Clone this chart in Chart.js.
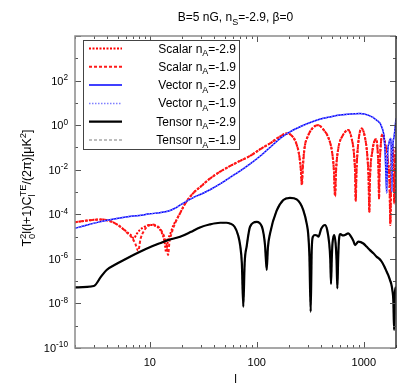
<!DOCTYPE html>
<html><head><meta charset="utf-8">
<script src="https://cdn.jsdelivr.net/npm/chart.js@4"></script>
<style>html,body{margin:0;padding:0;background:#fff}canvas{display:block}</style>
</head><body>
<canvas id="c" width="415" height="388"></canvas>
<script>
// ---- data: [multipole l, log10(T0^2 l(l+1) C_l^TE / 2pi)] ----
const scalarN29 = [[2,-4.36],[2.5,-4.29],[3,-4.25],[3.4,-4.23],[4,-4.27],[4.5,-4.35],[5,-4.47],[5.6,-4.65],[6.2,-4.82],[6.7,-4.95],[7.1,-5.08],[7.5,-4.9],[8,-4.72],[9,-4.55],[10,-4.48],[11,-4.5],[12,-4.6],[13,-4.85],[13.7,-5.2],[14.2,-5.68],[14.8,-5.15],[15.6,-4.85],[16.6,-4.5],[18,-4.2],[19.2,-3.95],[20.6,-3.66],[22.1,-3.42],[25.5,-3.05],[30,-2.75],[36.5,-2.4],[45,-2.1],[56,-1.84],[70,-1.6],[86.5,-1.38],[110,-1.05],[133,-0.82],[160,-0.55],[191,-0.37],[215,-0.5],[235,-0.85],[250,-1.4],[258,-2.0],[263,-2.62],[268,-1.9],[280,-1.0],[300,-0.5],[330,-0.15],[373,0.0],[420,-0.2],[470,-0.6],[505,-1.2],[525,-2.0],[538,-3.14],[550,-2.0],[580,-1.0],[630,-0.5],[716,-0.22],[770,-0.6],[810,-1.3],[830,-2.2],[840,-3.36],[852,-2.2],[880,-1.0],[955,-0.15],[1020,-0.5],[1080,-1.4],[1110,-2.5],[1125,-3.89],[1140,-2.5],[1200,-1.2],[1300,-0.63],[1350,-1.2],[1375,-2.2],[1387,-3.29],[1400,-2.2],[1440,-0.9],[1500,-0.4],[1580,-0.8],[1680,-1.6],[1740,-2.6],[1770,-4.48],[1810,-1.8],[1850,-0.9],[1890,-1.6],[1928,-3.51],[1960,-1.6],[2000,-0.97]];
const scalarN19 = [[2,-4.36],[2.5,-4.29],[3,-4.25],[3.4,-4.23],[4,-4.27],[4.5,-4.35],[5,-4.47],[5.6,-4.65],[6.2,-4.85],[6.8,-5.05],[7.3,-5.3],[7.8,-5.64],[8.2,-5.1],[8.8,-4.75],[9.5,-4.55],[10.5,-4.46],[11.5,-4.5],[12.5,-4.65],[13.5,-4.95],[14.3,-5.3],[14.8,-5.83],[15.3,-5.2],[16,-4.85],[16.6,-4.6],[18,-4.2],[19.2,-3.95],[20.6,-3.66],[22.1,-3.42],[25.5,-3.05],[30,-2.75],[36.5,-2.4],[45,-2.1],[56,-1.84],[70,-1.6],[86.5,-1.38],[110,-1.05],[133,-0.82],[160,-0.55],[191,-0.37],[215,-0.5],[235,-0.85],[250,-1.4],[258,-2.0],[264,-2.7],[270,-1.9],[280,-1.0],[300,-0.5],[330,-0.15],[373,0.0],[420,-0.2],[470,-0.6],[505,-1.2],[525,-2.0],[540,-3.2],[552,-2.0],[580,-1.0],[630,-0.5],[716,-0.22],[770,-0.6],[810,-1.3],[830,-2.2],[842,-3.4],[854,-2.2],[880,-1.0],[955,-0.15],[1020,-0.5],[1080,-1.4],[1110,-2.5],[1127,-3.9],[1142,-2.5],[1200,-1.2],[1300,-0.63],[1350,-1.2],[1375,-2.2],[1389,-3.3],[1402,-2.2],[1440,-0.9],[1500,-0.4],[1580,-0.8],[1680,-1.6],[1740,-2.6],[1772,-4.4],[1810,-1.8],[1850,-0.9],[1890,-1.6],[1930,-3.5],[1960,-1.6],[2000,-0.97]];
const vectorN29 = [[2,-4.63],[2.5,-4.5],[3.4,-4.34],[4.5,-4.22],[6,-4.12],[8,-4.05],[10,-3.98],[12.4,-3.93],[15,-3.85],[17,-3.74],[19,-3.6],[22,-3.42],[25.5,-3.25],[30,-3.1],[36.5,-2.9],[45,-2.65],[56,-2.35],[70,-2.05],[86,-1.75],[110,-1.35],[140,-0.9],[170,-0.55],[204,-0.3],[260,-0.05],[330,0.15],[410,0.3],[483,0.37],[600,0.45],[750,0.5],[923,0.52],[1100,0.45],[1321,0.22],[1472,-0.08],[1558,-0.67],[1594,-1.57],[1637,-3.05],[1670,-1.3],[1717,-0.82],[1788,-0.6],[1810,-1.2],[1829,-2.99],[1860,-1.1],[1920,-0.52],[2000,0.3]];
const vectorN19 = [[2,-4.63],[2.5,-4.5],[3.4,-4.34],[4.5,-4.22],[6,-4.12],[8,-4.05],[10,-3.98],[12.4,-3.93],[15,-3.85],[17,-3.74],[19,-3.6],[22,-3.42],[25.5,-3.25],[30,-3.1],[36.5,-2.9],[45,-2.65],[56,-2.35],[70,-2.05],[86,-1.75],[110,-1.35],[140,-0.9],[170,-0.55],[204,-0.3],[260,-0.05],[330,0.15],[410,0.3],[483,0.37],[600,0.45],[750,0.5],[923,0.52],[1100,0.45],[1321,0.22],[1472,-0.08],[1558,-0.67],[1594,-1.57],[1637,-3.05],[1670,-1.3],[1717,-0.82],[1788,-0.6],[1810,-1.2],[1829,-2.99],[1860,-1.1],[1920,-0.52],[2000,0.3]];
const tensorN29 = [[2,-7.28],[3,-7.22],[3.5,-6.8],[3.95,-6.5],[5,-6.2],[6.08,-5.98],[8.1,-5.68],[10,-5.48],[12.4,-5.3],[15,-5.15],[19.2,-5.01],[24,-4.8],[29.4,-4.59],[36,-4.46],[45.4,-4.38],[52,-4.38],[56,-4.41],[62,-4.56],[67,-4.95],[70,-5.41],[72.5,-6.2],[74.8,-8.15],[77,-6.2],[80.5,-5.43],[86.5,-4.56],[99.8,-4.34],[111.7,-4.56],[116,-4.9],[119.5,-5.41],[123.7,-6.5],[127,-5.5],[133,-4.86],[153,-3.85],[177,-3.36],[204,-3.26],[236,-3.33],[272,-3.81],[295,-4.5],[302,-4.86],[310,-5.8],[319,-8.37],[326,-5.6],[335,-5.0],[350,-4.93],[365,-4.95],[377,-5.0],[400,-4.65],[434,-4.48],[455,-4.7],[475,-5.3],[486,-6.0],[494,-7.13],[502,-6.0],[510,-5.3],[529,-4.93],[545,-5.3],[556,-6.0],[566,-7.32],[576,-6.0],[585,-5.2],[604,-4.89],[640,-4.95],[667,-4.93],[716,-4.86],[760,-5.0],[800,-5.2],[828,-5.38],[889,-5.23],[991,-5.31],[1060,-5.45],[1143,-5.61],[1230,-5.75],[1321,-5.91],[1400,-6.0],[1472,-6.13],[1560,-6.35],[1637,-6.58],[1700,-6.75],[1757,-6.95],[1800,-7.1],[1849,-7.4],[1890,-7.9],[1920,-9.19],[1950,-7.6],[2000,-7.25]];
const tensorN19 = [[2,-7.28],[3,-7.22],[3.5,-6.8],[3.95,-6.5],[5,-6.2],[6.08,-5.98],[8.1,-5.68],[10,-5.48],[12.4,-5.3],[15,-5.15],[19.2,-5.01],[24,-4.8],[29.4,-4.59],[36,-4.46],[45.4,-4.38],[52,-4.38],[56,-4.41],[62,-4.56],[67,-4.95],[70,-5.41],[72.5,-6.2],[74.8,-8.15],[77,-6.2],[80.5,-5.43],[86.5,-4.56],[99.8,-4.34],[111.7,-4.56],[116,-4.9],[119.5,-5.41],[123.7,-6.5],[127,-5.5],[133,-4.86],[153,-3.85],[177,-3.36],[204,-3.26],[236,-3.33],[272,-3.81],[295,-4.5],[302,-4.86],[310,-5.8],[319,-8.37],[326,-5.6],[335,-5.0],[350,-4.93],[365,-4.95],[377,-5.0],[400,-4.65],[434,-4.48],[455,-4.7],[475,-5.3],[486,-6.0],[494,-7.13],[502,-6.0],[510,-5.3],[529,-4.93],[545,-5.3],[556,-6.0],[566,-7.32],[576,-6.0],[585,-5.2],[604,-4.89],[640,-4.95],[667,-4.93],[716,-4.86],[760,-5.0],[800,-5.2],[828,-5.38],[889,-5.23],[991,-5.31],[1060,-5.45],[1143,-5.61],[1230,-5.75],[1321,-5.91],[1400,-6.0],[1472,-6.13],[1560,-6.35],[1637,-6.58],[1700,-6.75],[1757,-6.95],[1800,-7.1],[1849,-7.4],[1890,-7.9],[1920,-9.19],[1950,-7.6],[2000,-7.25]];

const seriesKinds = ['Scalar','Scalar','Vector','Vector','Tensor','Tensor'];
const seriesNA = ['-2.9','-1.9','-2.9','-1.9','-2.9','-1.9'];
const xTickValues = [10, 100, 1000];
const yTickExponents = [2, 0, -2, -4, -6, -8, -10];
const xRange = [2, 2000];
const yRange = [1e-10, 1e4];

const FONT = '"Liberation Sans", Arial, Helvetica, sans-serif';
const toPts = arr => arr.map(p => ({x: p[0], y: Math.pow(10, p[1])}));

const styles = [
  {borderColor:'#ff0000', borderWidth:2, borderDash:[2,1.5], order:5},
  {borderColor:'#ff1a1a', borderWidth:2, borderDash:[3,2], order:4},
  {borderColor:'#0000ff', borderWidth:1.5, borderDash:[], order:3},
  {borderColor:'#7f7fff', borderWidth:1.5, borderDash:[1.5,1.5], order:2},
  {borderColor:'#000000', borderWidth:2.2, borderDash:[], order:0},
  {borderColor:'#a8a8a8', borderWidth:1.5, borderDash:[3,2], order:1}
];
const seriesData = [scalarN29, scalarN19, vectorN29, vectorN19, tensorN29, tensorN19];

const datasets = seriesData.map((d, i) => Object.assign({
  label: seriesKinds[i] + ' nA=' + seriesNA[i],
  data: toPts(d),
  fill: false, pointRadius: 0,
  cubicInterpolationMode: 'monotone'
}, styles[i]));

function measureRuns(ctx, runs, size) {
  let w = 0;
  for (const r of runs) {
    if (typeof r === 'string') { ctx.font = size + 'px ' + FONT; w += ctx.measureText(r).width; }
    else {
      ctx.font = (size * 0.75) + 'px ' + FONT;
      const wb = r.b ? ctx.measureText(r.b).width : 0;
      const wp = r.p ? ctx.measureText(r.p).width : 0;
      w += Math.max(wb, wp);
    }
  }
  return w;
}
function drawRuns(ctx, runs, x, y, size, align) {
  const w = measureRuns(ctx, runs, size);
  let cx = align === 'right' ? x - w : (align === 'center' ? x - w / 2 : x);
  ctx.textAlign = 'left'; ctx.textBaseline = 'alphabetic';
  for (const r of runs) {
    if (typeof r === 'string') {
      ctx.font = size + 'px ' + FONT; ctx.fillText(r, cx, y); cx += ctx.measureText(r).width;
    } else {
      ctx.font = (size * 0.75) + 'px ' + FONT;
      let wb = 0, wp = 0;
      if (r.b) { ctx.fillText(r.b, cx, y + size * 0.3); wb = ctx.measureText(r.b).width; }
      if (r.p) { ctx.fillText(r.p, cx, y - size * 0.42); wp = ctx.measureText(r.p).width; }
      cx += Math.max(wb, wp);
    }
  }
}

const decor = {
  id: 'decor',
  beforeDraw(chart) {
    const ctx = chart.ctx;
    ctx.save(); ctx.fillStyle = '#fff'; ctx.fillRect(0, 0, chart.width, chart.height); ctx.restore();
  },
  afterDraw(chart) {
    const ctx = chart.ctx, a = chart.chartArea;
    const xs = chart.scales.x, ys = chart.scales.y;
    ctx.save();
    // ticks (inward, mirrored)
    ctx.strokeStyle = '#555'; ctx.lineWidth = 1;
    const lo = Math.ceil(Math.log10(xs.min)), hi = Math.floor(Math.log10(xs.max));
    for (let k = lo - 1; k <= hi; k++) {
      for (let m = 1; m <= 9; m++) {
        const v = m * Math.pow(10, k);
        if (v < xs.min || v > xs.max) continue;
        const px = Math.round(xs.getPixelForValue(v)) + 0.5;
        const len = m === 1 ? 6 : 3;
        ctx.beginPath();
        ctx.moveTo(px, a.bottom); ctx.lineTo(px, a.bottom - len);
        ctx.moveTo(px, a.top); ctx.lineTo(px, a.top + len);
        ctx.stroke();
      }
    }
    for (let e = Math.ceil(Math.log10(ys.min)); e <= Math.floor(Math.log10(ys.max)); e++) {
      const py = Math.round(ys.getPixelForValue(Math.pow(10, e))) + 0.5;
      const len = (e % 2 === 0) ? 6 : 3;
      ctx.beginPath();
      ctx.moveTo(a.left, py); ctx.lineTo(a.left + len, py);
      ctx.moveTo(a.right, py); ctx.lineTo(a.right - len, py);
      ctx.stroke();
    }
    // frame
    ctx.lineWidth = 1.5;
    ctx.strokeStyle = '#8a8a8a';
    ctx.beginPath();
    ctx.moveTo(a.right, a.top); ctx.lineTo(a.left, a.top); ctx.lineTo(a.left, a.bottom); ctx.lineTo(a.right, a.bottom);
    ctx.stroke();
    ctx.strokeStyle = '#333';
    ctx.beginPath(); ctx.moveTo(a.right, a.top); ctx.lineTo(a.right, a.bottom); ctx.stroke();

    ctx.fillStyle = '#000';
    // y tick labels
    for (const e of yTickExponents) {
      const py = ys.getPixelForValue(Math.pow(10, e));
      drawRuns(ctx, ['10', {p: String(e)}], 68, py + 4, 11, 'right');
    }
    // title
    const cxp = (a.left + a.right) / 2;
    drawRuns(ctx, ['B=5 nG, n', {b: 'S'}, '=-2.9, \u03b2=0'], cxp, 21, 12, 'center');
    // x title
    drawRuns(ctx, ['l'], cxp, 383, 12, 'center');
    // y title (rotated)
    ctx.save();
    ctx.translate(31, (a.top + a.bottom) / 2 - 4);
    ctx.rotate(-Math.PI / 2);
    drawRuns(ctx, ['T', {b: '0', p: '2'}, 'l(l+1)C', {b: 'l', p: 'TE'}, '/(2\u03c0)[\u03bcK', {p: '2'}, ']'], 0, 0, 12.5, 'center');
    ctx.restore();

    // legend
    const L = {left: 83, top: 40, right: 239, bottom: 149};
    ctx.fillStyle = '#fff';
    ctx.fillRect(L.left, L.top, L.right - L.left, L.bottom - L.top);
    ctx.strokeStyle = '#444'; ctx.lineWidth = 1;
    ctx.strokeRect(L.left + 0.5, L.top + 0.5, L.right - L.left, L.bottom - L.top);
    const rowH = 18.3;
    chart.data.datasets.forEach((ds, i) => {
      const cy = 48.5 + i * rowH;
      ctx.save();
      ctx.strokeStyle = ds.borderColor; ctx.lineWidth = ds.borderWidth;
      ctx.setLineDash(ds.borderDash || []);
      ctx.beginPath(); ctx.moveTo(89, cy); ctx.lineTo(122, cy); ctx.stroke();
      ctx.restore();
      ctx.fillStyle = '#000';
      drawRuns(ctx, [seriesKinds[i] + ' n', {b: 'A'}, '=' + seriesNA[i]], 236, cy + 4, 12, 'right');
    });
    ctx.restore();
  }
};

new Chart(document.getElementById('c'), {
  type: 'line',
  data: {datasets},
  options: {
    responsive: false, animation: false, devicePixelRatio: 1,
    layout: {padding: {top: 36, right: 19, left: 0, bottom: 0}},
    plugins: {legend: {display: false}, tooltip: {enabled: false}, title: {display: false}},
    elements: {point: {radius: 0}},
    scales: {
      x: {
        type: 'logarithmic', min: xRange[0], max: xRange[1],
        grid: {display: false}, border: {display: false},
        afterBuildTicks: s => { s.ticks = xTickValues.map(v => ({value: v})); },
        ticks: {callback: v => String(v), font: {family: FONT, size: 11}, color: '#000', padding: 0, maxRotation: 0, autoSkip: false},
        afterFit: s => { s.height = 40; }
      },
      y: {
        type: 'logarithmic', min: yRange[0], max: yRange[1],
        grid: {display: false}, border: {display: false},
        ticks: {display: false},
        afterFit: s => { s.width = 75; }
      }
    }
  },
  plugins: [decor]
});
</script>
</body></html>
